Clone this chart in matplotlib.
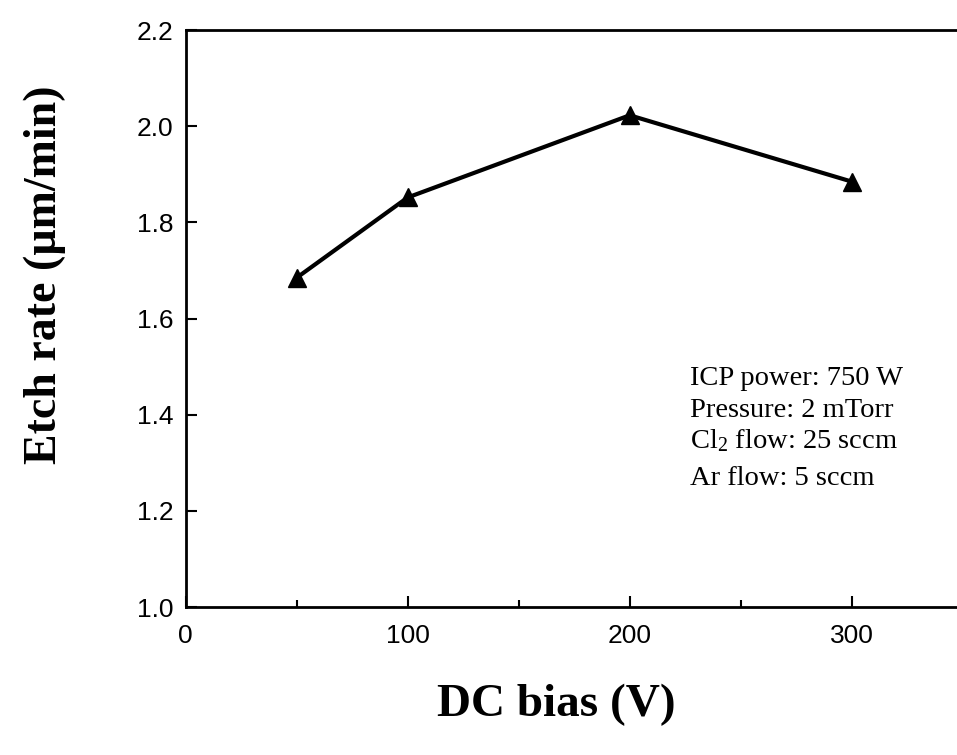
import matplotlib
matplotlib.use('agg')
import matplotlib.pyplot as plt
from matplotlib.ticker import MultipleLocator

# DC bias (V) vs etch rate (um/min)
bias = [50, 100, 200, 300]
etch_rate = [1.685, 1.852, 2.023, 1.885]

cond_lines = ['ICP power: 750 W', 'Pressure: 2 mTorr',
              r'Cl$_2$ flow: 25 sccm', 'Ar flow: 5 sccm']
cond_base = [0.490, 0.448, 0.407, 0.358]

plt.rcParams['mathtext.fontset'] = 'custom'
plt.rcParams['mathtext.rm'] = 'Liberation Serif'
plt.rcParams['mathtext.it'] = 'Liberation Serif:italic'

fig = plt.figure(figsize=(9.57, 7.55), dpi=100)
ax = fig.add_axes([0.194, 0.196, 0.812, 0.764])

ax.plot(bias, etch_rate, 'k-', lw=3, marker='^', ms=13, mfc='k', mec='k')

ax.set_xlim(0, 350)
ax.set_ylim(1.0, 2.2)
ax.xaxis.set_major_locator(MultipleLocator(100))
ax.xaxis.set_minor_locator(MultipleLocator(50))
ax.yaxis.set_major_locator(MultipleLocator(0.2))
ax.yaxis.set_major_formatter(matplotlib.ticker.FormatStrFormatter('%.1f'))

ax.tick_params(which='both', direction='in', top=False, right=False, width=1.5)
ax.tick_params(which='major', length=8)
ax.tick_params(which='minor', length=5)
ax.tick_params(axis='x', pad=12)
ax.tick_params(axis='y', pad=9)
for lab in ax.get_xticklabels() + ax.get_yticklabels():
    lab.set_family('Liberation Sans')
    lab.set_fontsize(19)
for sp in ax.spines.values():
    sp.set_linewidth(2)

fig.text(0.047, 0.636, 'Etch rate (\u00b5m/min)', rotation=90, ha='center', va='center',
         family='Liberation Serif', weight='bold', fontsize=33)
fig.text(0.581, 0.066, 'DC bias (V)', ha='center', va='center',
         family='Liberation Serif', weight='bold', fontsize=34)

for txt, yb in zip(cond_lines, cond_base):
    fig.text(0.721, yb, txt, ha='left', va='baseline',
             family='Liberation Serif', fontsize=20.5)

fig.savefig('out.png', dpi=100)
plt.close(fig)
